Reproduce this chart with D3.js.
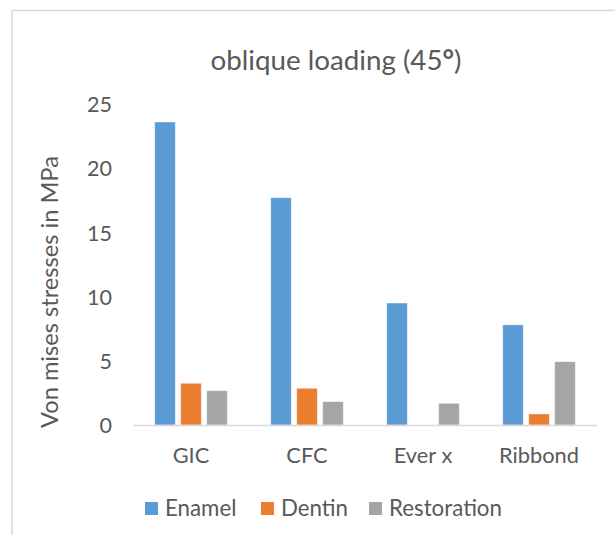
<!DOCTYPE html>
<html><head><meta charset="utf-8">
<script src="https://cdn.jsdelivr.net/npm/d3@7"></script>
<style>body{margin:0;background:#fff;} svg{display:block;} text{font-family:Lato,"Open Sans",sans-serif;fill:#595959;}</style>
</head><body><svg id="c" width="615" height="535"></svg>
<script>
const categories = ["GIC", "CFC", "Ever x", "Ribbond"];
const seriesNames = ["Enamel", "Dentin", "Restoration"];
const enamel = [23.6, 17.7, 9.5, 7.8];
const dentin = [3.25, 2.86, 0, 0.86];
const restoration = [2.67, 1.82, 1.69, 4.93];
const yTicks = [0, 5, 10, 15, 20, 25];
const colors = ["#5B9BD5", "#ED7D31", "#A5A5A5"];
const title = "oblique loading (45";
const yTitle = "Von mises stresses in MPa";

const values = [enamel, dentin, restoration];
const svg = d3.select("#c");

// scale a text's font size so that it spans the target width
function fitSize(str, target, base, weight) {
  const tmp = svg.append("text").attr("font-size", base).attr("font-weight", weight || null).text(str);
  const w = tmp.node().getComputedTextLength();
  tmp.remove();
  return base * target / w;
}

// chart border (cropped Excel frame)
svg.append("path").attr("d","M12,540V10.5H620").attr("fill","none").attr("stroke","#D9D9D9").attr("stroke-width",1.5);

const x0 = d3.scaleBand().domain(categories).range([133, 597]);
const x1 = d3.scaleBand().domain(seriesNames).range([-36.25, 36.25]).paddingInner(0.21);
const y = d3.scaleLinear().domain([0, 25]).range([425, 104]);

// bars
const g = svg.append("g");
seriesNames.forEach((s, si) => {
  g.selectAll(null).data(categories).enter().append("rect")
    .attr("x", c => x0(c) + x0.bandwidth()/2 + x1(s))
    .attr("width", x1.bandwidth())
    .attr("y", (c,i) => y(values[si][i]))
    .attr("height", (c,i) => y(0) - y(values[si][i]))
    .attr("fill", colors[si])
    .attr("stroke", "#fff").attr("stroke-opacity", 0.5).attr("stroke-width", 0.8);
});

const catSize = fitSize("Ribbond", 80, 18);
const tickSize = fitSize("25", 25, 18);

// x axis
const xa = svg.append("g").attr("transform","translate(0,425)")
  .call(d3.axisBottom(x0).tickSize(0).tickPadding(0));
xa.select(".domain").attr("stroke","#D9D9D9").attr("stroke-width",1.3);
xa.selectAll("text").attr("dy",null).attr("y",38).attr("font-size",catSize).attr("fill","#595959");

// y axis
const ya = svg.append("g").attr("transform","translate(112,0)")
  .call(d3.axisLeft(y).tickValues(yTicks).tickSize(0).tickPadding(0));
ya.select(".domain").remove();
ya.selectAll("text").attr("font-size",tickSize).attr("fill","#595959").attr("dy","0.36em");

// title
const titleSize = fitSize(title + "\u00B0)", 251, 22);
const t = svg.append("text").attr("x",336).attr("y",70).attr("text-anchor","middle").attr("font-size",titleSize).text(title);
t.append("tspan").attr("font-weight","bold").text("\u00B0");
t.append("tspan").text(")");

// y title
const ytSize = fitSize(yTitle, 272, 21);
svg.append("text").attr("transform","translate(58,292) rotate(-90)").attr("text-anchor","middle").attr("font-size",ytSize).text(yTitle);

// legend
const legSize = fitSize("Restoration", 113, 18);
const legX = [145, 261, 369];
const lg = svg.append("g");
seriesNames.forEach((s, i) => {
  lg.append("rect").attr("x", legX[i]).attr("y", 502).attr("width", 13).attr("height", 13).attr("fill", colors[i]);
  lg.append("text").attr("x", legX[i] + 20).attr("y", 516).attr("font-size", legSize).text(s);
});
</script></body></html>
